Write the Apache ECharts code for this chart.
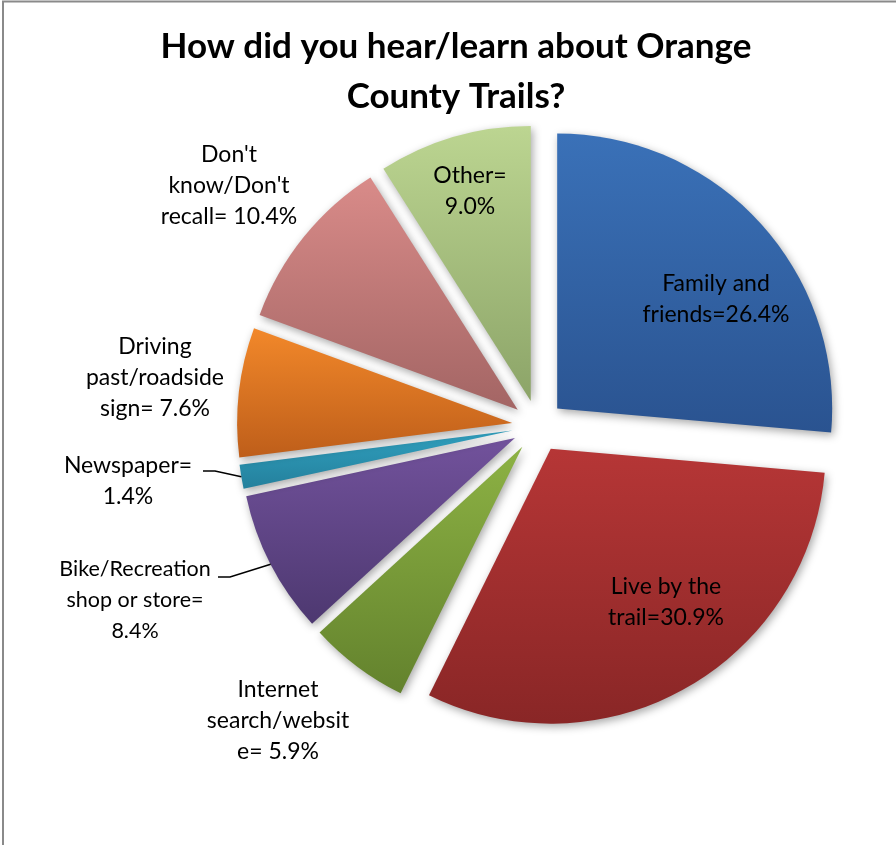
<!DOCTYPE html>
<html>
<head>
<meta charset="utf-8">
<script src="https://cdn.jsdelivr.net/npm/echarts@6/dist/echarts.min.js"></script>
<style>
  html, body { margin: 0; padding: 0; background: #ffffff; }
  #chart { width: 896px; height: 845px; }
</style>
</head>
<body>
<div id="chart"></div>
<script>
// Survey answers, clockwise from 12 o'clock
const categories = [
  'Family and friends',
  'Live by the trail',
  'Internet search/website',
  'Bike/Recreation shop or store',
  'Newspaper',
  'Driving past/roadside sign',
  "Don't know/Don't recall",
  'Other'
];
const shares = [26.4, 30.9, 5.9, 8.4, 1.4, 7.6, 10.4, 9.0];

// Label wording (the value is appended)
const labelPrefixes = [
  'Family and\nfriends=',
  'Live by the\ntrail=',
  'Internet\nsearch/websit\ne= ',
  'Bike/Recreation\nshop or store=\n',
  'Newspaper=\n',
  'Driving\npast/roadside\nsign= ',
  "Don't\nknow/Don't\nrecall= ",
  'Other=\n'
];

// Slice gradient colours (top -> bottom)
const topColors    = ['#3a71b8', '#b63636', '#8db244', '#72529c', '#30a0bf', '#f2882a', '#d98b89', '#bcd591'];
const bottomColors = ['#2a5390', '#892626', '#63822d', '#4d3870', '#24809c', '#be5e1a', '#a36564', '#8ca468'];

// ---- layout ----
const FONT = 'Lato, "Open Sans", sans-serif';
const CENTER = [538, 426];
const RADIUS = 275;
const EXPLODE = 26;

// Label block centres and leader-line elbows
const labelAnchors = [
  [716, 299], [666, 602], [278, 721], [135, 600],
  [128, 481], [155, 378], [229, 186], [470, 191]
];
const leaderElbows = {
  3: [[230, 577], [218, 577]],
  4: [[215, 471], [203, 471]]
};
const labelSizes = { 3: 21.5 };

// Outer-edge point at the middle of an exploded slice (leader line start)
function sliceEdgePoint(i) {
  const total = shares.reduce((a, b) => a + b, 0);
  const before = shares.slice(0, i).reduce((a, b) => a + b, 0);
  const mid = (before + shares[i] / 2) / total * 2 * Math.PI; // clockwise from top
  const dx = Math.sin(mid), dy = -Math.cos(mid);
  return [CENTER[0] + dx * (RADIUS + EXPLODE), CENTER[1] + dy * (RADIUS + EXPLODE)];
}

const labelGraphics = shares.map((v, i) => ({
  type: 'text',
  silent: true,
  z: 10,
  x: labelAnchors[i][0],
  y: labelAnchors[i][1],
  style: {
    text: labelPrefixes[i] + v.toFixed(1) + '%',
    align: 'center',
    verticalAlign: 'middle',
    fontFamily: FONT,
    fontSize: labelSizes[i] || 23,
    lineHeight: 31,
    fill: '#000000'
  }
}));

const leaderGraphics = Object.keys(leaderElbows).map(k => ({
  type: 'polyline',
  silent: true,
  z: 10,
  shape: { points: [sliceEdgePoint(+k)].concat(leaderElbows[k]) },
  style: { stroke: '#000000', lineWidth: 1.5, fill: null }
}));

const pieData = categories.map((name, i) => ({
  name,
  value: shares[i],
  selected: true,
  itemStyle: {
    color: new echarts.graphic.LinearGradient(0, 0, 0, 1, [
      { offset: 0, color: topColors[i] },
      { offset: 1, color: bottomColors[i] }
    ])
  }
}));

const chart = echarts.init(document.getElementById('chart'), null, { renderer: 'canvas' });

chart.setOption({
  animation: false,
  backgroundColor: '#ffffff',
  title: {
    text: 'How did you hear/learn about Orange\nCounty Trails?',
    left: 451,
    top: 17,
    textAlign: 'center',
    textStyle: {
      fontFamily: FONT,
      fontWeight: 'bold',
      fontSize: 35,
      lineHeight: 50,
      color: '#000000'
    }
  },
  graphic: [{
    type: 'rect',
    silent: true,
    shape: { x: 3, y: 1.5, width: 1200, height: 1200 },
    style: { fill: 'none', stroke: '#8a8a8a', lineWidth: 2 }
  }].concat(leaderGraphics, labelGraphics),
  series: [{
    type: 'pie',
    center: CENTER,
    radius: RADIUS,
    startAngle: 90,
    clockwise: true,
    selectedMode: 'multiple',
    selectedOffset: EXPLODE,
    avoidLabelOverlap: false,
    emphasis: { disabled: true },
    itemStyle: {
      shadowColor: 'rgba(0,0,0,0.35)',
      shadowBlur: 9,
      shadowOffsetX: 2,
      shadowOffsetY: 3
    },
    label: { show: false },
    labelLine: { show: false },
    data: pieData
  }]
});
</script>
</body>
</html>
